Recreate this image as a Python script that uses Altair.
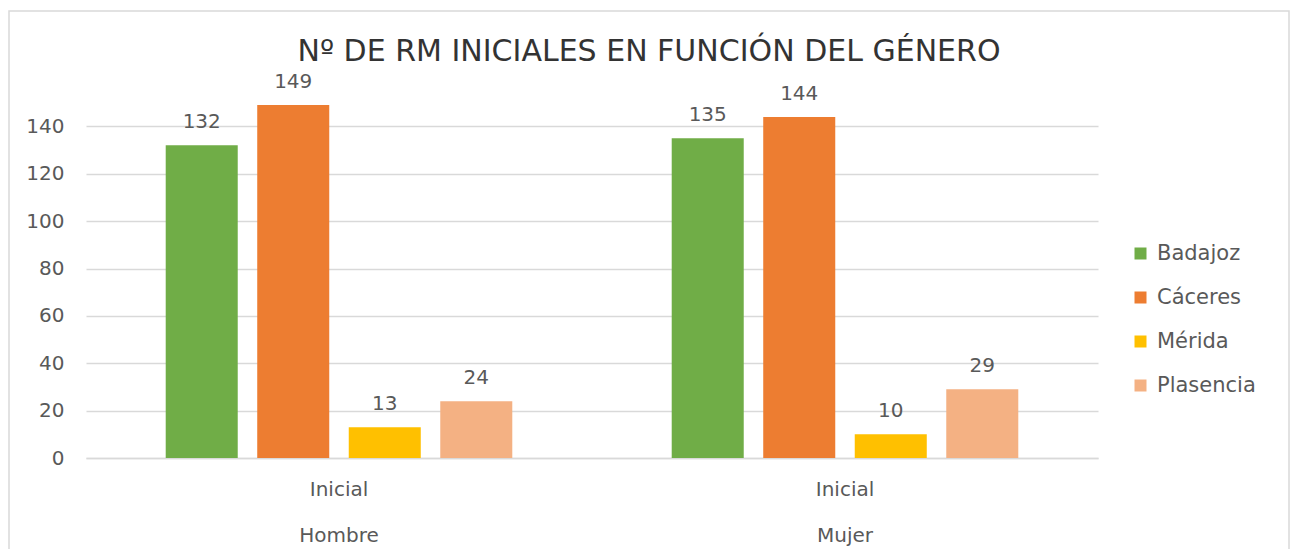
import altair as alt
import pandas as pd

generos = ["Hombre", "Mujer"]
ciudades = ["Badajoz", "Cáceres", "Mérida", "Plasencia"]
hombre = [132, 149, 13, 24]
mujer = [135, 144, 10, 29]
colores = ["#70AD47", "#ED7D31", "#FFC000", "#F4B183"]
y_ticks = [0, 20, 40, 60, 80, 100, 120, 140]

rows = []
for g, vals in zip(generos, [hombre, mujer]):
    for c, v in zip(ciudades, vals):
        rows.append({"genero": g, "ciudad": c, "valor": v})
df = pd.DataFrame(rows)

FONT = "DejaVu Sans"
TXT = "#595959"

base = alt.Chart(df).encode(
    x=alt.X("genero:N", sort=generos, title=None,
            scale=alt.Scale(paddingInner=0, paddingOuter=0),
            axis=alt.Axis(labelExpr="['Inicial', datum.label]", labelAngle=0,
                          labelFontSize=20, labelColor=TXT, labelFont=FONT,
                          labelLineHeight=46, labelPadding=21, ticks=False,
                          domainColor="#D9D9D9", domainWidth=1.5, grid=False)),
    xOffset=alt.XOffset("ciudad:N", sort=ciudades,
                        scale=alt.Scale(paddingInner=0.213, paddingOuter=0.871)),
    y=alt.Y("valor:Q", title=None,
            scale=alt.Scale(domain=[0, 160], nice=False),
            axis=alt.Axis(values=y_ticks, labelFontSize=20, labelColor=TXT,
                          labelFont=FONT, labelPadding=22, ticks=False,
                          domain=False, gridColor="#D9D9D9", gridWidth=1.5)),
)

bars = base.mark_bar().encode(
    color=alt.Color("ciudad:N", sort=ciudades, title=None,
                    scale=alt.Scale(domain=ciudades, range=colores),
                    legend=alt.Legend(orient="none", legendX=1044, legendY=164,
                                      symbolType="square", symbolSize=144,
                                      symbolStrokeWidth=0, labelFontSize=21,
                                      labelColor=TXT, labelFont=FONT,
                                      rowPadding=22, labelOffset=6))
)

labels = base.mark_text(baseline="alphabetic", dy=-17, fontSize=20,
                        color=TXT, font=FONT).encode(text="valor:Q")

frame = alt.Chart(pd.DataFrame({"marco": [0]})).mark_rect(
    fill=None, stroke="#D9D9D9", strokeWidth=1.5
).encode(
    x=alt.value(-77), x2=alt.value(1203), y=alt.value(-68), y2=alt.value(600)
)

chart = (frame + bars + labels).properties(
    width=1012, height=379,
    title=alt.Title("Nº DE RM INICIALES EN FUNCIÓN DEL GÉNERO", fontSize=30,
                    font=FONT, fontWeight="normal", color="#333333", offset=-57,
                    anchor="middle", frame="bounds"),
    autosize=alt.AutoSizeParams(type="none"),
    padding={"left": 78, "top": 71, "right": 192, "bottom": 91},
).configure_view(stroke=None)

chart.save("out.html", embed_options={"renderer": "svg", "actions": False})
